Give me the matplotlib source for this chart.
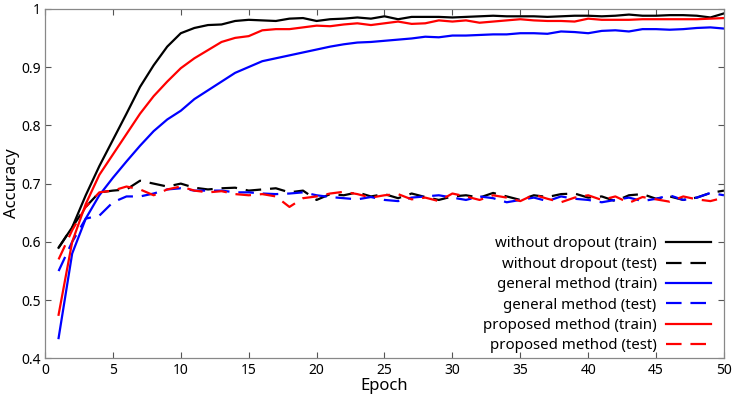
import matplotlib
matplotlib.use("Agg")
import matplotlib.pyplot as plt
import numpy as np

plt.rcParams['font.family'] = ['Noto Sans', 'DejaVu Sans']

epochs = list(range(1, 51))

nodrop_train = [0.590, 0.625, 0.680, 0.730, 0.775, 0.820, 0.866, 0.903, 0.935, 0.958,
                0.967, 0.972, 0.973, 0.979, 0.981, 0.980, 0.979, 0.983, 0.984, 0.979,
                0.982, 0.983, 0.985, 0.983, 0.987, 0.982, 0.986, 0.986, 0.986, 0.985,
                0.986, 0.987, 0.988, 0.987, 0.987, 0.987, 0.986, 0.987, 0.988, 0.988,
                0.987, 0.988, 0.990, 0.988, 0.988, 0.989, 0.989, 0.988, 0.985, 0.992]
nodrop_test = [0.590, 0.625, 0.660, 0.685, 0.688, 0.690, 0.705, 0.700, 0.695, 0.700,
               0.693, 0.690, 0.692, 0.693, 0.688, 0.690, 0.692, 0.685, 0.688, 0.672,
               0.682, 0.680, 0.685, 0.678, 0.682, 0.675, 0.683, 0.677, 0.672, 0.678,
               0.680, 0.676, 0.684, 0.678, 0.672, 0.680, 0.677, 0.682, 0.683, 0.676,
               0.678, 0.670, 0.680, 0.682, 0.674, 0.678, 0.672, 0.676, 0.684, 0.688]
general_train = [0.435, 0.580, 0.640, 0.680, 0.710, 0.738, 0.765, 0.790, 0.810, 0.825,
                 0.845, 0.860, 0.875, 0.890, 0.900, 0.910, 0.915, 0.920, 0.925, 0.930,
                 0.935, 0.939, 0.942, 0.943, 0.945, 0.947, 0.949, 0.952, 0.951, 0.954,
                 0.954, 0.955, 0.956, 0.956, 0.958, 0.958, 0.957, 0.961, 0.960, 0.958,
                 0.962, 0.963, 0.961, 0.965, 0.965, 0.964, 0.965, 0.967, 0.968, 0.966]
general_test = [0.550, 0.600, 0.640, 0.645, 0.668, 0.678, 0.678, 0.683, 0.690, 0.692,
                0.688, 0.688, 0.688, 0.685, 0.685, 0.683, 0.682, 0.683, 0.685, 0.680,
                0.677, 0.675, 0.673, 0.677, 0.672, 0.670, 0.676, 0.678, 0.680, 0.676,
                0.672, 0.678, 0.675, 0.668, 0.672, 0.676, 0.670, 0.678, 0.674, 0.672,
                0.668, 0.672, 0.676, 0.670, 0.674, 0.680, 0.672, 0.676, 0.684, 0.680]
proposed_train = [0.475, 0.600, 0.665, 0.715, 0.750, 0.785, 0.820, 0.850, 0.875, 0.898,
                  0.915, 0.929, 0.943, 0.950, 0.953, 0.963, 0.965, 0.965, 0.968, 0.971,
                  0.970, 0.973, 0.975, 0.972, 0.975, 0.978, 0.974, 0.975, 0.980, 0.978,
                  0.980, 0.976, 0.978, 0.980, 0.982, 0.980, 0.979, 0.979, 0.978, 0.983,
                  0.981, 0.981, 0.981, 0.982, 0.982, 0.982, 0.982, 0.982, 0.983, 0.984]
proposed_test = [0.570, 0.620, 0.660, 0.685, 0.688, 0.695, 0.690, 0.680, 0.690, 0.695,
                 0.688, 0.685, 0.687, 0.682, 0.680, 0.682, 0.678, 0.660, 0.675, 0.678,
                 0.683, 0.686, 0.682, 0.676, 0.680, 0.682, 0.673, 0.676, 0.670, 0.683,
                 0.678, 0.672, 0.680, 0.676, 0.670, 0.681, 0.674, 0.668, 0.676, 0.680,
                 0.672, 0.678, 0.667, 0.677, 0.673, 0.669, 0.678, 0.673, 0.670, 0.676]

series = [
    ("without dropout (train)", nodrop_train, "black", "-"),
    ("without dropout (test)", nodrop_test, "black", "--"),
    ("general method (train)", general_train, "#0000ff", "-"),
    ("general method (test)", general_test, "#0000ff", "--"),
    ("proposed method (train)", proposed_train, "#ff0000", "-"),
    ("proposed method (test)", proposed_test, "#ff0000", "--"),
]

fig = plt.figure(figsize=(7.33, 3.97), dpi=100)
ax = fig.add_axes([0.0614, 0.097, 0.9263, 0.881])

for label, vals, color, ls in series:
    kw = dict(color=color, lw=1.6, label=label)
    if ls == "--":
        ax.plot(epochs, vals, linestyle=(0, (7, 4)), **kw)
    else:
        ax.plot(epochs, vals, linestyle="-", **kw)

ax.set_xlim(0, 50)
ax.set_ylim(0.4, 1.0)
ax.set_xticks(range(0, 51, 5))
ax.set_yticks([0.4, 0.5, 0.6, 0.7, 0.8, 0.9, 1.0])
ax.set_yticklabels(["0.4", "0.5", "0.6", "0.7", "0.8", "0.9", "1"])
ax.tick_params(direction="in", top=True, right=True, length=4, width=0.8,
               color="#555555", labelsize=10, pad=3)
for s in ax.spines.values():
    s.set_color("#888888")
    s.set_linewidth(0.9)
ax.set_xlabel("Epoch", fontsize=12, labelpad=0)
ax.set_ylabel("Accuracy", fontsize=12)
ax.yaxis.set_label_coords(-0.037, 0.5)

leg = ax.legend(loc="lower right", frameon=False, markerfirst=False,
                fontsize=10.8, handlelength=3.0, handletextpad=0.6,
                labelspacing=0.36, borderaxespad=0.4,
                bbox_to_anchor=(0.998, -0.02))
for t in leg.get_texts():
    t.set_ha("right")

fig.savefig("out.png", dpi=100)
